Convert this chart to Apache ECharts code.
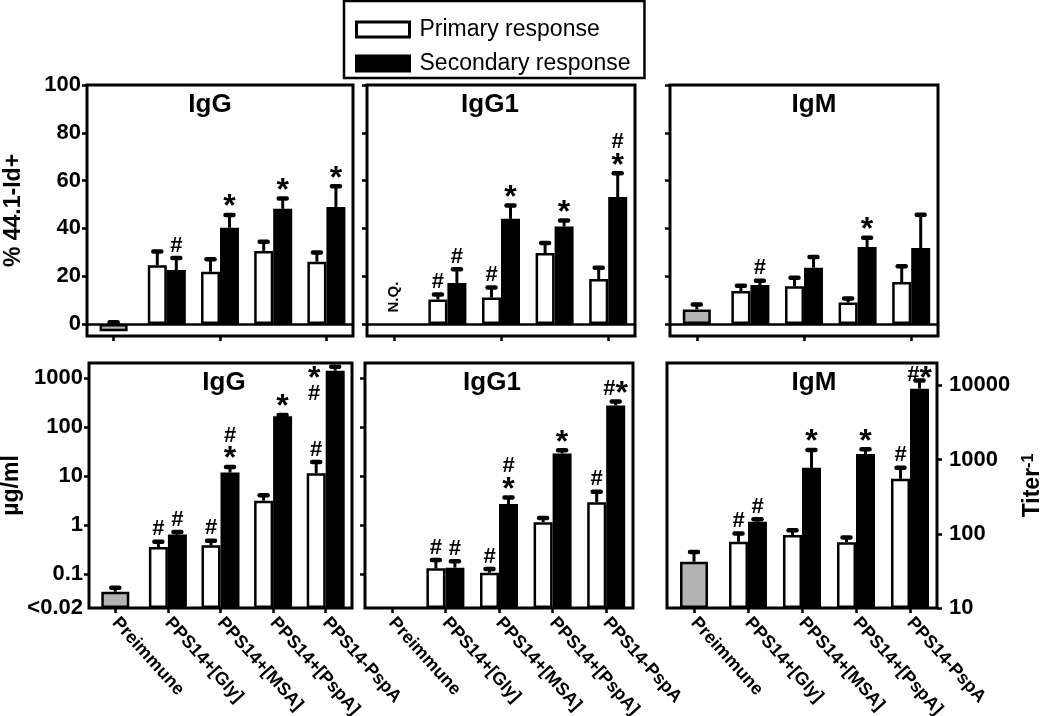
<!DOCTYPE html>
<html><head><meta charset="utf-8">
<script src="https://cdn.jsdelivr.net/npm/echarts@6/dist/echarts.min.js"></script>
<style>html,body{margin:0;padding:0;background:#fff}#chart{width:1050px;height:716px}</style>
</head><body><div id="chart"></div>
<script>
// ---------------- DATA ----------------
const categories = ['Preimmune', 'PPS14+[Gly]', 'PPS14+[MSA]', 'PPS14+[PspA]', 'PPS14-PspA'];
const panelTitles = ['IgG', 'IgG1', 'IgM'];
const seriesNames = ['Primary response', 'Secondary response'];

// Top row: % 44.1-Id+ (linear)
const pctTicks = [0, 20, 40, 60, 80, 100];
const pctPreimmune = [-3.0, null, 6.1];          // IgG, IgG1 (N.Q.), IgM
const pctPreimmuneErrTop = [0.8, null, 8.2];
// values for PPS14+[Gly], PPS14+[MSA], PPS14+[PspA], PPS14-PspA
const pctIgG_primary = [24.6, 21.9, 30.6, 26.1];
const pctIgG_primaryErrTop = [30.3, 27.1, 34.4, 29.9];
const pctIgG_secondary = [22.6, 40.3, 48.2, 49.0];
const pctIgG_secondaryErrTop = [27.6, 45.6, 52.5, 57.6];
const pctIgG_primaryMarks = ['', '', '', ''];
const pctIgG_secondaryMarks = ['#', '*', '*', '*'];

const pctIgG1_primary = [10.3, 11.1, 29.7, 18.8];
const pctIgG1_primaryErrTop = [12.4, 15.3, 33.9, 23.5];
const pctIgG1_secondary = [17.2, 44.0, 40.8, 53.1];
const pctIgG1_secondaryErrTop = [22.9, 49.6, 43.3, 63.1];
const pctIgG1_primaryMarks = ['#', '#', '', ''];
const pctIgG1_secondaryMarks = ['#', '*', '*', '#\n*'];

const pctIgM_primary = [13.8, 15.8, 9.0, 17.6];
const pctIgM_primaryErrTop = [16.0, 19.4, 10.7, 24.2];
const pctIgM_secondary = [16.3, 23.6, 32.2, 31.8];
const pctIgM_secondaryErrTop = [18.1, 28.0, 36.1, 45.7];
const pctIgM_primaryMarks = ['', '', '', ''];
const pctIgM_secondaryMarks = ['#', '', '*', ''];

// Bottom row: ug/ml (IgG, IgG1, log) and Titer^-1 (IgM, log)
const concLabelTicks = [0.02, 0.1, 1, 10, 100, 1000];
const concTicks = [0.1, 1, 10, 100, 1000];
const titerTicks = [10, 100, 1000, 10000];
const logPreimmune = [0.043, null, 42];
const logPreimmuneErrTop = [0.052, null, 57];

const concIgG_primary = [0.35, 0.38, 3.1, 11.2];
const concIgG_primaryErrTop = [0.45, 0.47, 4.0, 19];
const concIgG_secondary = [0.63, 11.6, 163, 1390];
const concIgG_secondaryErrTop = [0.71, 15, 173, 1670];
const concIgG_primaryMarks = ['#', '#', '', '#'];
const concIgG_secondaryMarks = ['#', '#\n*', '*', '*\n#'];

const concIgG1_primary = [0.129, 0.105, 1.13, 2.87];
const concIgG1_primaryErrTop = [0.19, 0.125, 1.38, 4.7];
const concIgG1_secondary = [0.133, 2.65, 28.6, 272];
const concIgG1_secondaryErrTop = [0.18, 3.6, 33, 327];
const concIgG1_primaryMarks = ['#', '#', '', '#'];
const concIgG1_secondaryMarks = ['#', '#\n*', '*', '#*'];

const titerIgM_primary = [78, 96, 77, 551];
const titerIgM_primaryErrTop = [101, 112, 89, 773];
const titerIgM_secondary = [145, 773, 1192, 9020];
const titerIgM_secondaryErrTop = [157, 1346, 1375, 11660];
const titerIgM_primaryMarks = ['#', '', '', '#'];
const titerIgM_secondaryMarks = ['#', '*', '*', '#*'];

// ---------------- BUILD ----------------
const FONT = '"Liberation Sans", Arial, sans-serif';
const panels = [
  {pre: pctPreimmune[0], preTop: pctPreimmuneErrTop[0], p: pctIgG_primary, pt: pctIgG_primaryErrTop, s: pctIgG_secondary, st: pctIgG_secondaryErrTop, pm: pctIgG_primaryMarks, sm: pctIgG_secondaryMarks},
  {pre: pctPreimmune[1], preTop: pctPreimmuneErrTop[1], p: pctIgG1_primary, pt: pctIgG1_primaryErrTop, s: pctIgG1_secondary, st: pctIgG1_secondaryErrTop, pm: pctIgG1_primaryMarks, sm: pctIgG1_secondaryMarks},
  {pre: pctPreimmune[2], preTop: pctPreimmuneErrTop[2], p: pctIgM_primary, pt: pctIgM_primaryErrTop, s: pctIgM_secondary, st: pctIgM_secondaryErrTop, pm: pctIgM_primaryMarks, sm: pctIgM_secondaryMarks},
  {pre: logPreimmune[0], preTop: logPreimmuneErrTop[0], p: concIgG_primary, pt: concIgG_primaryErrTop, s: concIgG_secondary, st: concIgG_secondaryErrTop, pm: concIgG_primaryMarks, sm: concIgG_secondaryMarks},
  {pre: logPreimmune[1], preTop: logPreimmuneErrTop[1], p: concIgG1_primary, pt: concIgG1_primaryErrTop, s: concIgG1_secondary, st: concIgG1_secondaryErrTop, pm: concIgG1_primaryMarks, sm: concIgG1_secondaryMarks},
  {pre: logPreimmune[2], preTop: logPreimmuneErrTop[2], p: titerIgM_primary, pt: titerIgM_primaryErrTop, s: titerIgM_secondary, st: titerIgM_secondaryErrTop, pm: titerIgM_primaryMarks, sm: titerIgM_secondaryMarks}
];

const gridRects = [
  {left: 87, top: 85, width: 266, height: 251},
  {left: 367, top: 85, width: 268, height: 251},
  {left: 670, top: 85, width: 268, height: 251},
  {left: 89, top: 363, width: 263, height: 245},
  {left: 365, top: 363, width: 268, height: 245},
  {left: 667, top: 363, width: 270, height: 245}
];
const titlePos = [[210, 105], [490, 105], [814, 105], [224, 383], [492, 383], [814, 383]];

const BAR_W = 19;
const tickStyle = {show: true, inside: false, length: 5, lineStyle: {color: '#000', width: 2.5}};
const labelStyle = {color: '#000', fontSize: 22, fontWeight: 'bold', fontFamily: FONT};

function richMark(m) {
  return m.split('\n').map(line => line.split('').map(c => c === '#' ? '{h|#}' : '{s|*}').join('')).join('\n');
}
const markRich = {
  h: {fontSize: 22, fontWeight: 'bold', fontFamily: FONT, lineHeight: 19, fill: '#000', color: '#000'},
  s: {fontSize: 32, fontWeight: 'bold', fontFamily: FONT, lineHeight: 19, fill: '#000', color: '#000', padding: [10, 0, 0, 0]}
};

const grid = [], xAxis = [], yAxis = [], series = [], graphic = [];

panels.forEach((pn, i) => {
  const top = i < 3;
  grid.push(Object.assign({show: true, borderColor: '#000', borderWidth: 3, backgroundColor: 'transparent',
    containLabel: false, outerBoundsMode: 'none'}, gridRects[i]));
  xAxis.push({
    type: 'category', gridIndex: i, data: categories,
    axisLine: {show: false, onZero: false},
    axisTick: Object.assign({alignWithLabel: true}, tickStyle),
    axisLabel: top ? {show: false} : {show: true, rotate: -48, margin: 12, color: '#000', fontSize: 18, fontWeight: 'bold', fontFamily: FONT, interval: 0},
    splitLine: {show: false}
  });
  // overlay axis for the preimmune bar (and zero line in the top row)
  xAxis.push({
    type: 'category', gridIndex: i, data: categories, show: top,
    axisLine: {show: top, onZero: true, lineStyle: {color: '#000', width: 2.5}},
    axisTick: {show: false}, axisLabel: {show: false}, splitLine: {show: false}
  });
  if (top) {
    yAxis.push({
      type: 'value', gridIndex: i, min: -5, max: 100,
      axisLine: {show: false}, splitLine: {show: false},
      axisTick: Object.assign({customValues: pctTicks}, tickStyle),
      axisLabel: Object.assign({show: i === 0, margin: 6, customValues: pctTicks}, labelStyle),
      name: i === 0 ? '% 44.1-Id+' : '', nameLocation: 'middle', nameRotate: 90, nameGap: 62,
      nameTextStyle: {color: '#000', fontSize: 23, fontWeight: 'bold', fontFamily: FONT}
    });
  } else if (i < 5) {
    yAxis.push({
      type: 'log', logBase: 10, gridIndex: i, min: 0.02, max: 2000, startValue: 0.02,
      axisLine: {show: false}, splitLine: {show: false},
      axisTick: Object.assign({customValues: concTicks}, tickStyle),
      axisLabel: Object.assign({show: i === 3, margin: 6, customValues: concLabelTicks,
        formatter: v => (Math.abs(v - 0.02) < 1e-6 ? '<0.02' : String(Number(v.toPrecision(3))))}, labelStyle),
      name: i === 3 ? 'µg/ml' : '', nameLocation: 'middle', nameRotate: 90, nameGap: 60,
      nameTextStyle: {color: '#000', fontSize: 23, fontWeight: 'bold', fontFamily: FONT}
    });
  } else {
    yAxis.push({
      type: 'log', logBase: 10, gridIndex: i, position: 'right', min: 10, max: 20000, startValue: 10,
      axisLine: {show: false}, splitLine: {show: false},
      axisTick: Object.assign({customValues: titerTicks}, tickStyle),
      axisLabel: Object.assign({show: true, margin: 12, customValues: titerTicks,
        formatter: v => String(Math.round(v))}, labelStyle),
      name: 'Titer{sup|-1}', nameLocation: 'middle', nameRotate: 90, nameGap: 84,
      nameTextStyle: {color: '#000', fontSize: 23, fontWeight: 'bold', fontFamily: FONT,
        rich: {sup: {fontSize: 16, fontWeight: 'bold', fontFamily: FONT, color: '#000', verticalAlign: 'top', padding: [0, 0, 8, 0]}}}
    });
  }

  const blank = ['-'];
  series.push({
    type: 'bar', name: seriesNames[0], xAxisIndex: 2 * i, yAxisIndex: i,
    barWidth: BAR_W, barGap: '0%', data: blank.concat(pn.p),
    itemStyle: {color: '#fff', borderColor: '#000', borderWidth: 2.5}, silent: true
  });
  series.push({
    type: 'bar', name: seriesNames[1], xAxisIndex: 2 * i, yAxisIndex: i,
    barWidth: BAR_W, barGap: '0%', data: blank.concat(pn.s),
    itemStyle: {color: '#000', borderColor: '#000', borderWidth: 2.5}, silent: true
  });
  if (pn.pre !== null) {
    series.push({
      type: 'bar', name: 'Preimmune', xAxisIndex: 2 * i + 1, yAxisIndex: i,
      barWidth: 28, data: [pn.pre, '-', '-', '-', '-'],
      itemStyle: {color: '#b3b3b3', borderColor: '#000', borderWidth: 2.5}, silent: true
    });
  }
  // error bars + significance marks
  const rows = [];
  if (pn.pre !== null) rows.push({x: 0, v: pn.pre, t: pn.preTop, side: 0, mark: ''});
  pn.p.forEach((v, k) => rows.push({x: k + 1, v: v, t: pn.pt[k], side: -1, mark: pn.pm[k]}));
  pn.s.forEach((v, k) => rows.push({x: k + 1, v: v, t: pn.st[k], side: 1, mark: pn.sm[k]}));
  series.push({
    type: 'custom', xAxisIndex: 2 * i, yAxisIndex: i, z: 6, silent: true,
    data: rows.map(r => [r.x, r.v, r.t]),
    encode: {x: 0, y: [1, 2]},
    renderItem: (params, api) => {
      const r = rows[params.dataIndex];
      const cs = params.coordSys;
      const base = api.value(1) < 0 ? 0 : api.value(1);
      const from = api.coord([api.value(0), base]);
      const to = api.coord([api.value(0), api.value(2)]);
      const cx = from[0] + r.side * BAR_W / 2;
      const children = [
        {type: 'line', shape: {x1: cx, y1: from[1], x2: cx, y2: to[1]}, style: {stroke: '#000', lineWidth: 3}},
        {type: 'line', shape: {x1: cx - 4, y1: to[1], x2: cx + 4, y2: to[1]}, style: {stroke: '#000', lineWidth: 4.5, lineCap: 'round'}}
      ];
      if (r.mark) {
        const nLines = r.mark.split('\n').length;
        const h = nLines * 19;
        let x = cx, y = to[1] - 3, va = 'bottom';
        if (y - h < cs.y + 2) {
          va = 'top'; y = cs.y + 2;
          if (nLines > 1) x = cx - 21;
        }
        children.push({type: 'text', x: x, y: y, style: {text: richMark(r.mark), rich: markRich, align: 'center', verticalAlign: va, fill: '#000'}});
      }
      return {type: 'group', children: children};
    }
  });
  graphic.push({type: 'text', x: titlePos[i][0], y: titlePos[i][1], z: 10,
    style: {text: panelTitles[i % 3], font: 'bold 26px ' + FONT, textAlign: 'center', textVerticalAlign: 'middle', fill: '#000'}});
});

// N.Q. label for the IgG1 preimmune (not quantified)
series.push({
  type: 'custom', xAxisIndex: 2, yAxisIndex: 1, z: 6, silent: true,
  data: [[0, 0]],
  renderItem: (params, api) => {
    const p = api.coord([api.value(0), api.value(1)]);
    return {type: 'text', x: p[0], y: p[1] - 27, rotation: Math.PI / 2,
      style: {text: 'N.Q.', font: 'bold 15px ' + FONT, align: 'center', verticalAlign: 'middle', fill: '#000'}};
  }
});

const chart = echarts.init(document.getElementById('chart'), null, {renderer: 'canvas'});
chart.setOption({
  animation: false,
  backgroundColor: '#fff',
  grid: grid, xAxis: xAxis, yAxis: yAxis, series: series, graphic: graphic,
  legend: {
    data: [
      {name: seriesNames[0], itemStyle: {color: '#fff', borderColor: '#000', borderWidth: 3}},
      {name: seriesNames[1], itemStyle: {color: '#000', borderColor: '#000', borderWidth: 3}}
    ],
    orient: 'vertical', left: 344, top: 1,
    borderColor: '#000', borderWidth: 2.5, padding: [17, 14, 3, 11],
    itemWidth: 53, itemHeight: 15, itemGap: 11, icon: 'rect', selectedMode: false,
    textStyle: {color: '#000', fontSize: 23, fontFamily: FONT, padding: [0, 0, 0, 5]}
  }
});
</script>
</body></html>
